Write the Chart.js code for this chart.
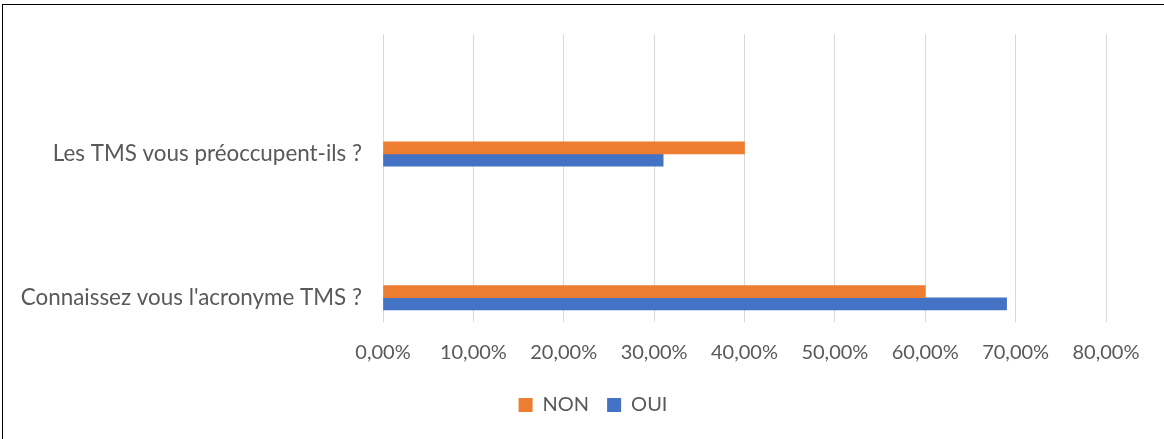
<!DOCTYPE html>
<html>
<head>
<meta charset="utf-8">
<script src="https://cdn.jsdelivr.net/npm/chart.js@4/dist/chart.umd.min.js"></script>
<style>
  html, body { margin: 0; padding: 0; background: #fff; }
  #wrap { position: relative; width: 1164px; height: 439px; overflow: hidden; }
  #frame { position: absolute; left: 2px; top: 4px; right: -10px; bottom: -10px;
           border-top: 1.5px solid #000; border-left: 1.5px solid #000; pointer-events: none; }
</style>
</head>
<body>
<div id="wrap">
  <canvas id="c" width="1164" height="439"></canvas>
  <div id="frame"></div>
</div>
<script>
// ---- data ----
const categories = ["Les TMS vous préoccupent-ils ?", "Connaissez vous l'acronyme TMS ?"];
const seriesNames = ["NON", "OUI"];
const nonValues = [0.40, 0.60];
const ouiValues = [0.31, 0.69];
const xTicks = [0, 0.1, 0.2, 0.3, 0.4, 0.5, 0.6, 0.7, 0.8];

const FONT = "Lato";
const TEXT = "#595959";

function toPoints(vals) { return vals.map((v, i) => ({ x: v, y: i + 1 })); }
function pct(v) { return (v * 100).toFixed(2).replace('.', ',') + '%'; }

// shift the bottom legend so it is centred like the original
const legendShift = {
  id: 'legendShift',
  afterLayout(chart) {
    if (chart.legend) { chart.legend.left += 40; chart.legend.right += 40; }
  }
};

new Chart(document.getElementById('c'), {
  type: 'bar',
  data: {
    datasets: [
      { label: seriesNames[0], data: toPoints(nonValues), backgroundColor: '#ED7D31', barThickness: 12.2 },
      { label: seriesNames[1], data: toPoints(ouiValues), backgroundColor: '#4472C4', barThickness: 12.2 }
    ]
  },
  plugins: [legendShift],
  options: {
    indexAxis: 'y',
    responsive: false,
    animation: false,
    layout: { padding: { top: 34, right: 58, bottom: 14, left: 0 } },
    plugins: {
      tooltip: { enabled: false },
      legend: {
        position: 'bottom',
        labels: { boxWidth: 14, boxHeight: 14, padding: 18, color: TEXT, font: { family: FONT, size: 20 } }
      }
    },
    scales: {
      x: {
        type: 'linear', min: 0, max: 0.8,
        afterBuildTicks: (s) => { s.ticks = xTicks.map(v => ({ value: v })); },
        afterFit: (s) => { s.height = 55.5; },
        ticks: { callback: (v) => pct(v), color: TEXT, font: { family: FONT, size: 20 }, padding: 19, maxRotation: 0 },
        grid: { color: '#D9D9D9', lineWidth: 1, drawTicks: false },
        border: { display: false }
      },
      y: {
        type: 'linear', reverse: true, offset: false, min: 0.168, max: 2.165,
        afterBuildTicks: (s) => { s.ticks = categories.map((c, i) => ({ value: i + 1 })); },
        afterFit: (s) => { s.width = 383; },
        ticks: { callback: (v) => categories[v - 1], color: TEXT, font: { family: FONT, size: 22.4 }, padding: 21 },
        grid: { display: false, drawTicks: false, offset: false },
        border: { display: false }
      }
    }
  }
});
</script>
</body>
</html>
